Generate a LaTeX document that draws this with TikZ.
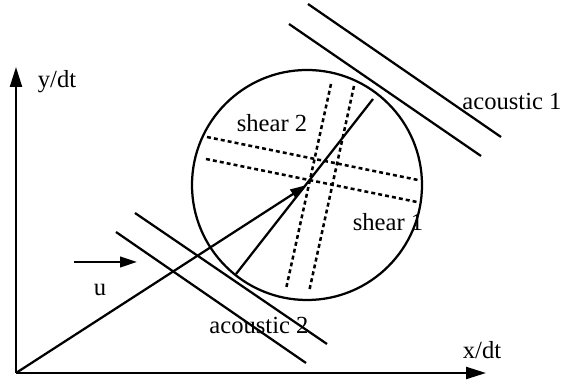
\documentclass[tikz,border=0pt]{standalone}
\usepackage{fontspec}
\setmainfont{Liberation Serif}
\usetikzlibrary{arrows.meta}

\begin{document}
\begin{tikzpicture}[
    wave/.style={line width=1.6pt},
    shearline/.style={line width=1.8pt, dash pattern=on 2.8pt off 2.2pt},
    lbl/.style={font=\fontsize{17.5}{20}\selectfont, inner sep=0pt},
    bigtip/.style={-{Triangle[length=0.5cm,width=0.3cm]}},
    smalltip/.style={-{Triangle[length=0.42cm,width=0.26cm]}}
]
    \useasboundingbox (-0.4,-0.325) rectangle (13.8,9.325);

    % Axes
    \coordinate (O) at (0,0);
    \coordinate (xend) at (11.75,0);
    \coordinate (yend) at (0,7.65);
    \draw[wave, bigtip] (O) -- (xend);
    \draw[wave, bigtip] (O) -- (yend);
    \node[lbl] (xlab) at (11.65,0.575) {x/dt};
    \node[lbl] (ylab) at (1.025,7.275) {y/dt};

    % Circle and velocity
    \coordinate (C) at (7.275,4.7);
    \draw[wave] (C) circle (2.875);
    \draw[wave, smalltip] (O) -- (C);
    \coordinate (T) at (5.5,2.475);
    \coordinate (E) at (8.925,6.85);
    \draw[wave] (T) -- (E);

    % Shear waves
    \draw[shearline] (4.775,5.9) -- (10.05,4.825);
    \draw[shearline] (4.75,5.35) -- (10.025,4.275);
    \draw[shearline] (7.875,7.225) -- (6.75,2.1);
    \draw[shearline] (8.45,7.175) -- (7.325,2.025);
    \node[lbl] (sh2) at (6.4,6.25) {shear 2};
    \node[lbl] (sh1) at (9.3,3.775) {shear 1};

    % Acoustic waves
    \draw[wave] (7.3,9.225) -- (12.125,5.9);
    \draw[wave] (6.825,8.725) -- (11.625,5.425);
    \node[lbl] (ac1) at (12.4,6.8) {acoustic 1};
    \draw[wave] (2.975,4.0) -- (7.775,0.725);
    \draw[wave] (2.5,3.525) -- (7.25,0.25);
    \node[lbl] (ac2) at (6.075,1.2) {acoustic 2};

    % Mean flow
    \coordinate (u0) at (1.45,2.775);
    \coordinate (u1) at (3.025,2.775);
    \draw[wave, smalltip] (u0) -- (u1);
    \node[lbl] (ulab) at (2.1,2.075) {u};
\end{tikzpicture}
\end{document}
